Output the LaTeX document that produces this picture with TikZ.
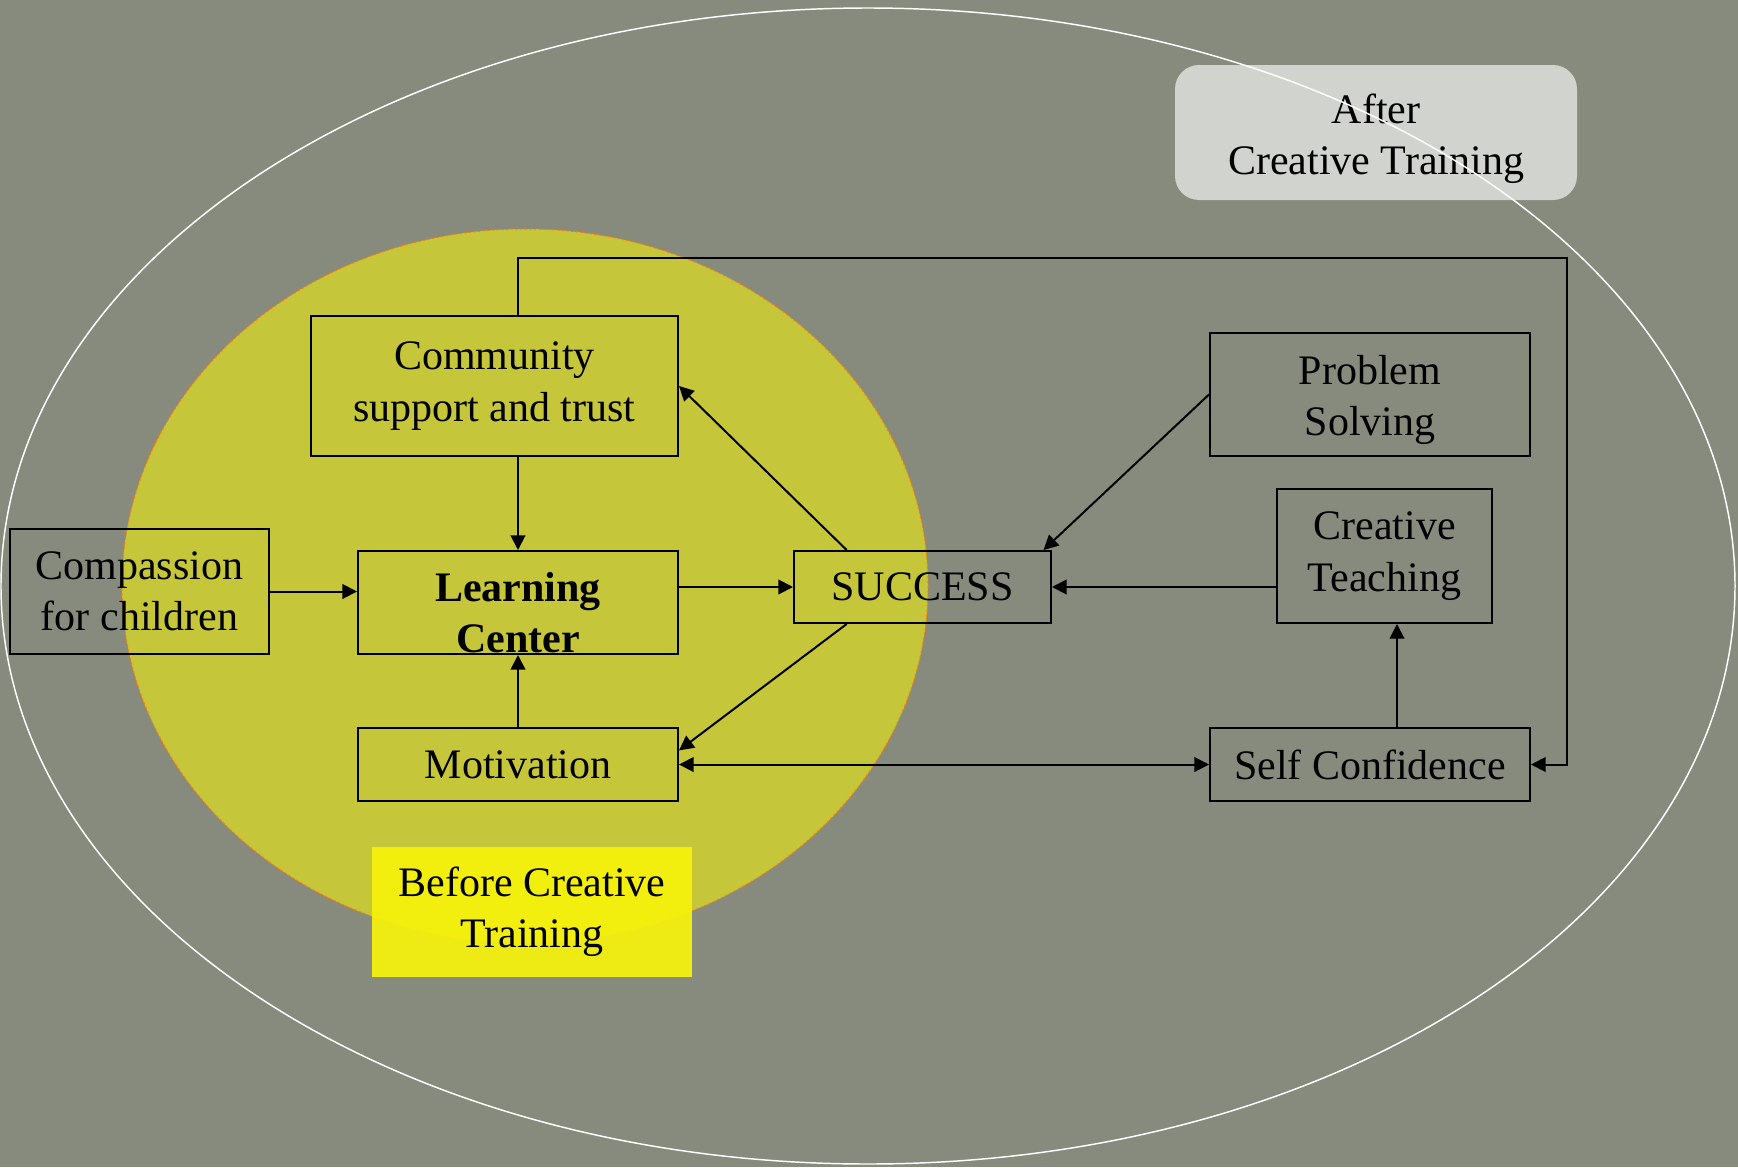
\documentclass[tikz,border=0pt]{standalone}
\usepackage{fontspec}
\setmainfont{Liberation Serif}
\usetikzlibrary{arrows.meta}

\definecolor{bgcol}{RGB}{134,139,125}
\definecolor{circcol}{RGB}{245,242,10}
\definecolor{beforecol}{RGB}{246,243,12}
\definecolor{aftercol}{RGB}{214,216,211}

\tikzset{every picture/.style={line width=0.75pt}}
\tikzset{
  box/.style={draw=black, line width=1.5pt, align=center, inner sep=0pt,
    font=\fontsize{31.5}{38.5}\selectfont},
  boxtext/.style={align=center, inner sep=0pt, font=\fontsize{31.5}{38.5}\selectfont},
  link/.style={-{Triangle[length=11pt,width=11pt]}, line width=1.5pt},
  tag/.style={align=center, inner sep=0pt, font=\fontsize{31.5}{38.5}\selectfont},
}

\begin{document}
\begin{tikzpicture}[x=0.75pt,y=0.75pt,yscale=-1,xscale=1]
\useasboundingbox (0,0) rectangle (1738,1167);

%Shape: background
\fill [bgcol] (0,0) rectangle (1738,1167);

%Shape: Ellipse (before)
\draw [draw=orange, dash pattern={on 2pt off 1.5pt}, line width=0.75pt,
  fill=circcol, fill opacity=0.58] (525,586) ellipse [x radius=403, y radius=357];

%Shape: Rectangle (before label)
\fill [beforecol, fill opacity=0.92] (372,847) rectangle (692,977);
% Text Node
\node [tag] (before) at (532,912) {Before Creative\\Training};

%Shape: Rounded Rectangle (after label)
\fill [aftercol, fill opacity=0.95, rounded corners=18pt] (1175,65) rectangle (1577,200);
% Text Node
\node [tag] (after) at (1376,139) {After\\Creative Training};

%Shape: Ellipse (after)
\draw [white, line width=1.1pt] (868,586) ellipse [x radius=867, y radius=578];

% Text Nodes
\node [box, minimum width=275.25pt, minimum height=105pt] (comm) at (494.5,386) {Community\\support and trust};
\node [box, minimum width=194.25pt, minimum height=93.75pt] (comp) at (139.5,591.5) {Compassion\\for children};
\node [box, minimum width=240pt, minimum height=77.25pt,
  label={[boxtext, yshift=-7.5pt]center:{\textbf{Learning}\\\textbf{Center}}}] (lc) at (518,602.5) {};
\node [box, minimum width=192.75pt, minimum height=54pt] (succ) at (922.5,587) {SUCCESS};
\node [box, minimum width=240pt, minimum height=54.75pt] (motiv) at (518,764.5) {Motivation};
\node [box, minimum width=240pt, minimum height=92.25pt,
  label={[boxtext, yshift=-4pt]center:{Problem\\Solving}}] (prob) at (1370,394.5) {};
\node [box, minimum width=161.25pt, minimum height=100.5pt] (crea) at (1384.5,556) {Creative\\Teaching};
\node [box, minimum width=240pt, minimum height=54.75pt] (self) at (1370,764.5) {Self Confidence};

\coordinate (ctop) at (1567,258);
\coordinate (tx) at (1397,0);

% Connectors
\draw [link] (comm.south -| lc.north) -- (lc.north);
\draw [link] (motiv.north) -- (lc.south);
\draw [link] (comp.east) -- (comp.east -| lc.west);
\draw [link] (lc.east |- succ.west) -- (succ.west);
\draw [link] (succ.154) -- (comm.east);
\draw [link] (succ.206) -- (motiv.5);
\draw [link] (prob.west) -- (succ.17);
\draw [link] (crea.west |- succ.east) -- (succ.east);
\draw [link] (self.north -| tx) -- (crea.south -| tx);
\draw [{Triangle[length=11pt,width=11pt]}-{Triangle[length=11pt,width=11pt]}, line width=1.5pt] (motiv.east) -- (self.west);
\draw [link] (comm.north -| lc.north) |- (ctop) |- (self.east);

\end{tikzpicture}
\end{document}
